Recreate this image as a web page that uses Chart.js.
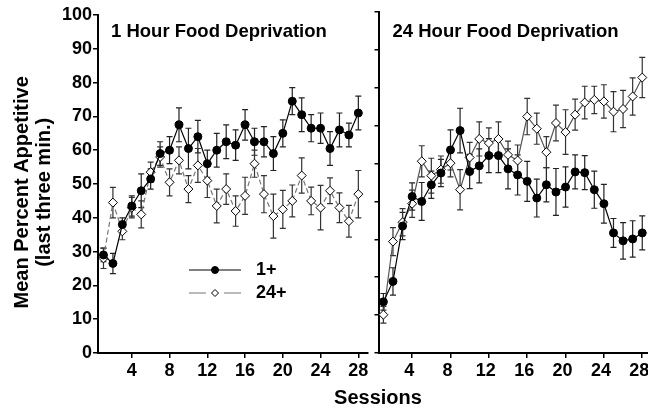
<!DOCTYPE html>
<html>
<head>
<meta charset="utf-8">
<script src="https://cdn.jsdelivr.net/npm/chart.js@4.4.1/dist/chart.umd.min.js"></script>
<style>
  html, body { margin: 0; padding: 0; background: #fff; overflow: hidden; }
  body { width: 648px; height: 412px; position: relative; }
  #leftChart { position: absolute; left: 0; top: 0; }
  #rightChart { position: absolute; left: 373px; top: 0; }
  #xTitle {
    position: absolute; left: 278px; width: 200px; top: 386px; line-height: 24px;
    text-align: center; font: bold 20px "Liberation Sans", Arial, Helvetica, sans-serif; color: #000;
  }
</style>
</head>
<body>
<canvas id="leftChart" width="373" height="412"></canvas>
<canvas id="rightChart" width="290" height="412"></canvas>
<div id="xTitle">Sessions</div>
<script>
// sessions (x categories)
const sessions = [1, 2, 3, 4, 5, 6, 7, 8, 9, 10, 11, 12, 13, 14, 15, 16, 17, 18, 19, 20, 21, 22, 23, 24, 25, 26, 27, 28];
const xTickLabels = [4, 8, 12, 16, 20, 24, 28];
const yTicksLeft = [0, 10, 20, 30, 40, 50, 60, 70, 80, 90, 100];
const yTicksRight = [0, 10, 20, 30, 40, 50, 60, 70, 80, 90];

// 1 hour food deprivation panel
const oneHour1 = [29, 26.5, 38, 43.5, 48, 51.5, 59, 60, 67.5, 60.5, 64, 56, 60, 62.5, 61.5, 67.5, 62.5, 62.5, 59, 65, 74.5, 70.5, 66.5, 66.5, 60.5, 66, 64.5, 71];
const oneHour1Err = [2, 3, 2, 3, 5, 3, 3.5, 4, 5, 6, 4.8, 4, 5, 5, 4.5, 4.5, 4, 4.5, 5, 4, 4, 5, 4, 4.5, 5, 5, 3.5, 5];
const oneHour24 = [28, 44.5, 36, 43, 41, 53.5, 58, 50.5, 57, 48.5, 55.5, 51, 43.5, 48.5, 42, 46.5, 56, 47, 40.5, 42.5, 45, 52.5, 45, 43, 48, 43, 39, 47];
const oneHour24Err = [3, 4.5, 2.5, 3, 4, 3, 3, 4, 4, 4, 5, 5, 5, 4.5, 4.5, 5.5, 4, 5.5, 6.5, 5.6, 4.7, 5.2, 4.1, 6.6, 3.8, 4.4, 4.7, 7];

// 24 hour food deprivation panel (its own axis, ticks 0-90)
const dayHour1 = [13.5, 18.9, 33.5, 41.3, 40, 44.4, 47.5, 53.6, 58.7, 47.9, 49.4, 52.1, 52.1, 48.6, 47, 45.3, 40.9, 44.4, 42.5, 43.8, 47.8, 47.6, 43.1, 39.4, 31.7, 29.6, 30.1, 31.7];
const dayHour1Err = [2.2, 3.6, 3.6, 3.6, 5, 3.6, 3.6, 5.3, 5.9, 4.5, 4.5, 4.5, 4.5, 5.3, 5.3, 5.3, 5, 4.5, 6.2, 5.3, 4.5, 4.5, 4.9, 5.1, 3.8, 4.8, 4.8, 4.5];
const dayHour24 = [10.1, 29.4, 34.5, 39.4, 50.6, 46.8, 48.4, 50.1, 43.1, 51.6, 56.5, 55.4, 56.5, 52.3, 50.8, 62.4, 59.2, 53, 60.7, 58.3, 62.9, 66.1, 66.8, 66.4, 63.7, 64.4, 67.7, 72.7];
const dayHour24Err = [2.2, 3.7, 3.6, 3.6, 4.1, 4.6, 3.6, 3.6, 5.3, 4, 4.5, 4, 4.5, 3.6, 4.1, 4.8, 4.1, 4.1, 4.7, 5.9, 4.1, 4.3, 3.6, 4.4, 5.3, 4.9, 4.9, 5.3];

const FONT = "'Liberation Sans', Arial, Helvetica, sans-serif";

const toPoints = vals => sessions.map((s, i) => ({ x: s, y: vals[i] }));

function makeDatasets(vals1, err1, vals24, err24, dashed) {
  return [
    {
      label: '1+',
      data: toPoints(vals1),
      errors: err1,
      errorColor: '#222',
      borderColor: '#000',
      borderWidth: 1.2,
      pointStyle: 'circle',
      pointRadius: 4,
      pointBackgroundColor: '#000',
      pointBorderColor: '#000',
      pointBorderWidth: 1,
    },
    {
      label: '24+',
      data: toPoints(vals24),
      errors: err24,
      errorColor: '#333',
      borderColor: dashed ? '#777' : '#555',
      borderWidth: 1.2,
      borderDash: dashed ? [5, 3] : [],
      pointStyle: 'rectRot',
      pointRadius: 4.5,
      pointBackgroundColor: '#fff',
      pointBorderColor: '#000',
      pointBorderWidth: 1,
    },
  ];
}

// error bars drawn through the chart's own scales
const errorBars = {
  id: 'errorBars',
  beforeDatasetsDraw(chart) {
    const { ctx } = chart;
    const xs = chart.scales.x, ys = chart.scales.y;
    chart.data.datasets.forEach(ds => {
      ctx.save();
      ctx.strokeStyle = ds.errorColor;
      ctx.lineWidth = 1.2;
      ds.data.forEach((p, i) => {
        const x = xs.getPixelForValue(p.x);
        const top = ys.getPixelForValue(p.y + ds.errors[i]);
        const bot = ys.getPixelForValue(p.y - ds.errors[i]);
        ctx.beginPath();
        ctx.moveTo(x, top); ctx.lineTo(x, bot);
        ctx.moveTo(x - 3, top); ctx.lineTo(x + 3, top);
        ctx.moveTo(x - 3, bot); ctx.lineTo(x + 3, bot);
        ctx.stroke();
      });
      ctx.restore();
    });
  }
};

const panelLabel = {
  id: 'panelLabel',
  afterDraw(chart, args, opts) {
    const { ctx, chartArea } = chart;
    ctx.save();
    ctx.font = 'bold 18.5px ' + FONT;
    ctx.fillStyle = '#000';
    ctx.textBaseline = 'alphabetic';
    ctx.fillText(opts.text, chartArea.left + opts.dx, chartArea.top + opts.dy);
    ctx.restore();
  }
};

// little legend inside the left panel
const innerLegend = {
  id: 'innerLegend',
  afterDraw(chart, args, opts) {
    if (!opts.show) return;
    const { ctx, chartArea } = chart;
    const x0 = chartArea.left + 91, x1 = chartArea.left + 143, xm = (x0 + x1) / 2;
    chart.data.datasets.forEach((ds, i) => {
      const y = chartArea.top + 255 + i * 23;
      ctx.save();
      ctx.strokeStyle = ds.borderColor;
      ctx.lineWidth = 1.2;
      ctx.beginPath();
      if (i === 0) {
        ctx.moveTo(x0, y); ctx.lineTo(x1, y);
      } else {
        ctx.moveTo(x0, y); ctx.lineTo(xm - 9, y);
        ctx.moveTo(xm + 9, y); ctx.lineTo(x1, y);
      }
      ctx.stroke();
      ctx.fillStyle = ds.pointBackgroundColor;
      ctx.strokeStyle = ds.pointBorderColor;
      ctx.lineWidth = 1;
      Chart.helpers.drawPoint(ctx, { pointStyle: ds.pointStyle, radius: 3.5, rotation: 0, borderWidth: 1 }, xm, y);
      ctx.fillStyle = '#000';
      ctx.font = 'bold 18px ' + FONT;
      ctx.textBaseline = 'middle';
      ctx.fillText(ds.label, x1 + 15, y);
      ctx.restore();
    });
  }
};

function xScale(min, max, labelShift) {
  return {
    type: 'linear',
    min: min,
    max: max,
    afterBuildTicks: s => { s.ticks = xTickLabels.map(v => ({ value: v })); },
    afterFit: s => { s.height = 59; },
    ticks: { color: '#000', font: { family: FONT, size: 18, weight: 'bold' }, padding: 2, maxRotation: 0, autoSkip: false, labelOffset: labelShift },
    grid: { display: true, drawOnChartArea: false, drawTicks: true, tickLength: 5, color: '#000', lineWidth: 1.5 },
    border: { display: true, color: '#000', width: 2 },
  };
}

// the trailing no-break spaces nudge the centred title a little lower
const yTitle = ['Mean Percent Appetitive\u00a0\u00a0\u00a0', '(last three min.)\u00a0\u00a0\u00a0'];

new Chart(document.getElementById('leftChart'), {
  type: 'line',
  data: { datasets: makeDatasets(oneHour1, oneHour1Err, oneHour24, oneHour24Err, true) },
  plugins: [errorBars, panelLabel, innerLegend],
  options: {
    responsive: false,
    animation: false,
    layout: { padding: { top: 15, left: 0, right: 0, bottom: 0 } },
    plugins: {
      legend: { display: false },
      tooltip: { enabled: false },
      panelLabel: { text: '1 Hour Food Deprivation', dx: 13, dy: 22 },
      innerLegend: { show: true },
    },
    scales: {
      x: xScale(0.42, 28.97, 0),
      y: {
        min: 0,
        max: 100,
        afterBuildTicks: s => { s.ticks = yTicksLeft.map(v => ({ value: v })); },
        afterFit: s => { s.width = 98; },
        ticks: { color: '#000', font: { family: FONT, size: 18, weight: 'bold' }, padding: 1 },
        grid: { display: true, drawOnChartArea: false, drawTicks: true, tickLength: 5, color: '#000', lineWidth: 1.5 },
        border: { display: true, color: '#000', width: 2 },
        title: {
          display: true,
          text: yTitle,
          color: '#000',
          font: { family: FONT, size: 20, weight: 'bold', lineHeight: 1.1 },
          padding: { top: 11, bottom: 0 },
        },
      },
    },
  },
});

new Chart(document.getElementById('rightChart'), {
  type: 'line',
  data: { datasets: makeDatasets(dayHour1, dayHour1Err, dayHour24, dayHour24Err, false) },
  plugins: [errorBars, panelLabel, innerLegend],
  options: {
    responsive: false,
    animation: false,
    layout: { padding: { top: 12, left: 0, right: 15, bottom: 0 } },
    plugins: {
      legend: { display: false },
      tooltip: { enabled: false },
      panelLabel: { text: '24 Hour Food Deprivation', dx: 14, dy: 25 },
      innerLegend: { show: false },
    },
    scales: {
      x: xScale(0.49, 28.6, -3),
      y: {
        min: 0,
        max: 90,
        afterBuildTicks: s => { s.ticks = yTicksRight.map(v => ({ value: v })); },
        afterFit: s => { s.width = 3; },
        ticks: { display: false },
        grid: { display: true, drawOnChartArea: false, drawTicks: true, tickLength: 4, color: '#000', lineWidth: 1.5 },
        border: { display: true, color: '#000', width: 2 },
      },
    },
  },
});
</script>
</body>
</html>
